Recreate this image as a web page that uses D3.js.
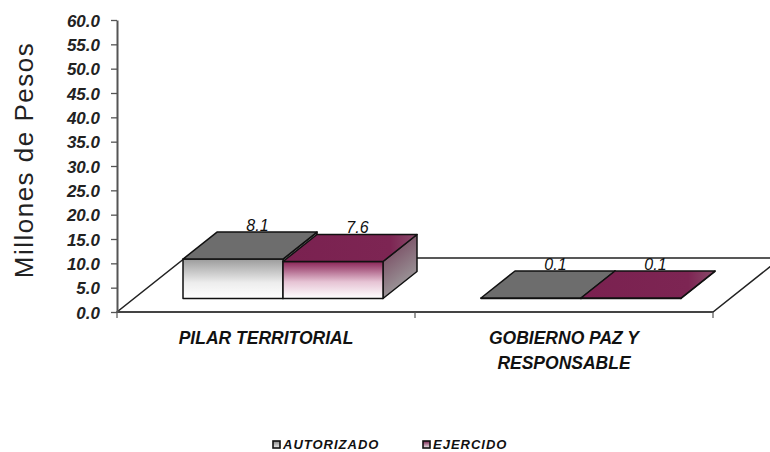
<!DOCTYPE html>
<html><head><meta charset="utf-8">
<script src="https://cdn.jsdelivr.net/npm/d3@7"></script>
<style>body{margin:0;background:#fff}svg{display:block}text{font-family:"Liberation Sans",Arial,sans-serif}</style>
</head><body><svg id="c" width="770" height="452"></svg>
<script>
const categories = ["PILAR TERRITORIAL", "GOBIERNO PAZ Y RESPONSABLE"];
const categoryLines = [["PILAR TERRITORIAL"], ["GOBIERNO PAZ Y", "RESPONSABLE"]];
const series = ["AUTORIZADO", "EJERCIDO"];
const autorizado = [8.1, 0.1];
const ejercido = [7.6, 0.1];
const yTicks = [0, 5, 10, 15, 20, 25, 30, 35, 40, 45, 50, 55, 60];
const yTitle = "Millones de Pesos";

const svg = d3.select("#c");
const defs = svg.append("defs");
function grad(id, stops, x2, y2) {
  const g = defs.append("linearGradient").attr("id", id).attr("x1", 0).attr("y1", 0).attr("x2", x2).attr("y2", y2);
  stops.forEach(s => g.append("stop").attr("offset", s[0]).attr("stop-color", s[1]));
}
grad("fA", [[0, "#9c9c9c"], [0.6, "#ededed"], [1, "#ffffff"]], 0, 1);
grad("fE", [[0, "#8a2457"], [0.55, "#e6c3d4"], [1, "#ffffff"]], 0, 1);
grad("sE", [[0, "#6e3552"], [1, "#a0a0a0"]], 0.4, 1);
grad("tE", [[0, "#7a2150"], [0.8, "#7d2553"], [1, "#8a4c6b"]], 1, 0);
grad("lA", [[0, "#888"], [1, "#eee"]], 0, 1);
grad("lE", [[0, "#7a2150"], [1, "#eee"]], 0, 1);

const style = {
  AUTORIZADO: {front: "url(#fA)", top: "#6d6d6d", side: "#8a8a8a", legend: "url(#lA)"},
  EJERCIDO: {front: "url(#fE)", top: "url(#tE)", side: "url(#sE)", legend: "url(#lE)"}
};

const y = d3.scaleLinear().domain([0, 60]).range([312, 20]);
const x0 = d3.scaleBand().domain(categories).range([117, 713]).paddingInner(0).paddingOuter(0);
const x1 = d3.scaleBand().domain(series).range([0, x0.bandwidth()]).paddingInner(0).paddingOuter(0.49);
const DX = 68, DY = -54, f0 = 0.25, f1 = 0.75;
const dx = DX * (f1 - f0), dy = DY * (f1 - f0);

// floor
const fy = y(0);
svg.append("polygon")
  .attr("points", [[117, fy], [713, fy], [713 + DX, fy + DY], [117 + DX, fy + DY]].map(p => p.join(",")).join(" "))
  .attr("fill", "#fff").attr("stroke", "#222").attr("stroke-width", 1.5);
svg.append("line").attr("x1", 117).attr("x2", 713).attr("y1", fy).attr("y2", fy)
  .attr("stroke", "#444").attr("stroke-width", 2.2);
// category ticks
const edges = categories.map(c => x0(c)).concat([x0(categories[1]) + x0.bandwidth()]);
svg.selectAll(".ct").data(edges).enter().append("line")
  .attr("x1", d => d).attr("x2", d => d).attr("y1", fy).attr("y2", fy + 6)
  .attr("stroke", "#555").attr("stroke-width", 1.2);

// y axis
const ax = svg.append("g").attr("transform", "translate(117,0)")
  .call(d3.axisLeft(y).tickValues(yTicks).tickSize(6).tickSizeOuter(0).tickFormat(d => d.toFixed(1)));
ax.select(".domain").attr("stroke", "#555").attr("stroke-width", 2);
ax.selectAll(".tick line").attr("stroke", "#555").attr("stroke-width", 1.3);
ax.selectAll(".tick text").attr("x", -17).attr("dy", "0.36em")
  .style("font-size", "17px").style("font-weight", "bold").style("font-style", "italic").attr("fill", "#222");

svg.append("text").attr("transform", "translate(33,160) rotate(-90)").attr("text-anchor", "middle")
  .style("font-size", "26px").style("letter-spacing", "1.5px").attr("fill", "#222").text(yTitle);

// bars
const values = {AUTORIZADO: autorizado, EJERCIDO: ejercido};
categories.forEach((c, ci) => {
  series.forEach(s => {
    const v = values[s][ci];
    const xa = x0(c) + x1(s) + DX * f0, xb = xa + x1.bandwidth();
    const yb = y(0) + DY * f0;
    const yt = yb - (y(0) - y(v));
    const g = svg.append("g").attr("stroke", "#111").attr("stroke-width", 1.5).attr("stroke-linejoin", "round");
    g.append("polygon").attr("points", [[xb, yt], [xb + dx, yt + dy], [xb + dx, yb + dy], [xb, yb]].map(p => p.join(",")).join(" "))
      .attr("fill", style[s].side);
    g.append("rect").attr("x", xa).attr("y", yt).attr("width", xb - xa).attr("height", Math.max(0.01, yb - yt))
      .attr("fill", style[s].front);
    g.append("polygon").attr("points", [[xa, yt], [xb, yt], [xb + dx, yt + dy], [xa + dx, yt + dy]].map(p => p.join(",")).join(" "))
      .attr("fill", style[s].top);
    svg.append("text").attr("x", (xa + xb) / 2 + dx * 0.72).attr("y", yt + dy - 1.5).attr("text-anchor", "middle")
      .style("font-size", "16px").style("font-style", "italic").attr("fill", "#111").text(v.toFixed(1));
  });
});

// category labels
categories.forEach((c, ci) => {
  const t = svg.append("text").attr("x", x0(c) + x0.bandwidth() / 2).attr("y", 344).attr("text-anchor", "middle")
    .style("font-size", "17.5px").style("font-weight", "bold").style("font-style", "italic").attr("fill", "#111");
  categoryLines[ci].forEach((ln, li) => t.append("tspan").attr("x", x0(c) + x0.bandwidth() / 2).attr("y", 344 + li * 25).text(ln));
});

// legend
const legX = [273, 423];
series.forEach((s, i) => {
  svg.append("rect").attr("x", legX[i]).attr("y", 441).attr("width", 7).attr("height", 7)
    .attr("fill", style[s].legend).attr("stroke", "#111").attr("stroke-width", 1.6);
  svg.append("text").attr("x", legX[i] + 10).attr("y", 449)
    .style("font-size", "13px").style("font-weight", "bold").style("font-style", "italic").style("letter-spacing", "1px")
    .attr("fill", "#111").text(s);
});
</script></body></html>
